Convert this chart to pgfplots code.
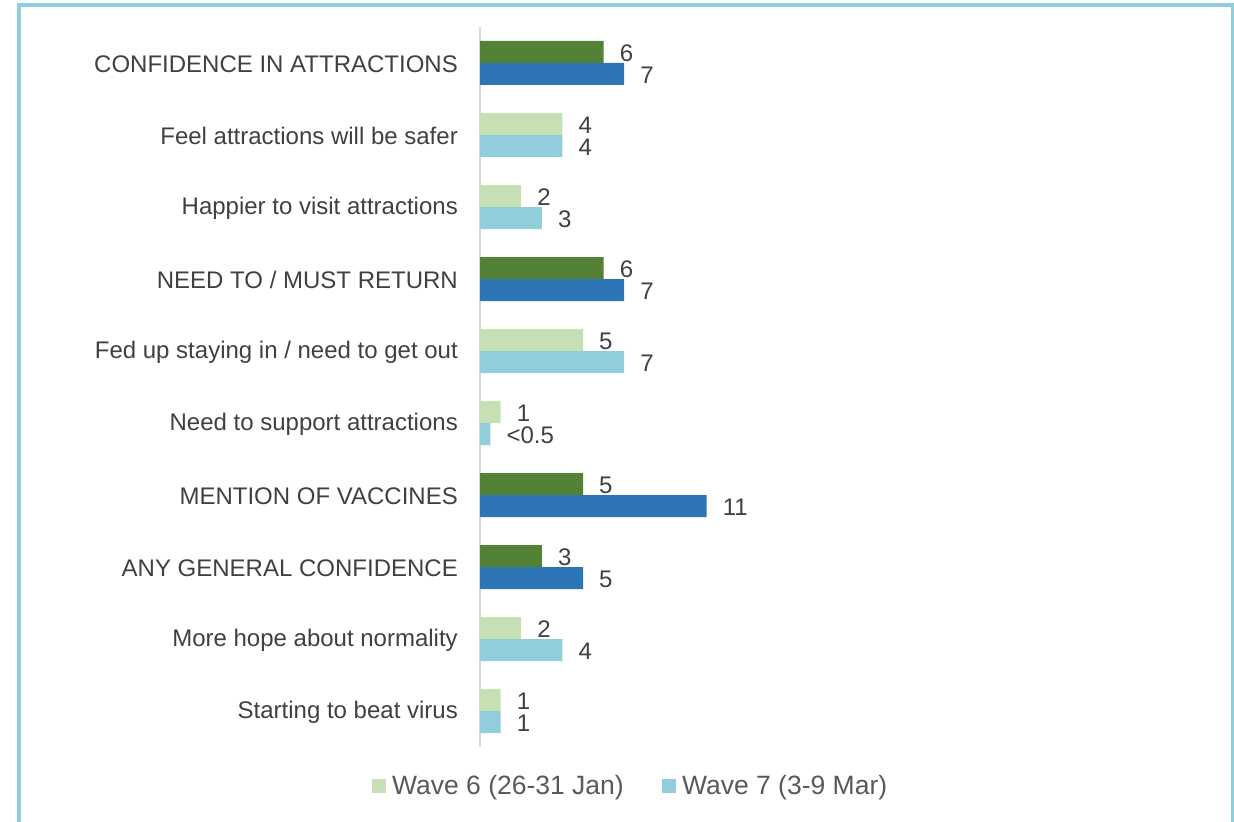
\documentclass[border=0pt]{standalone}
\usepackage{pgfplots}
\pgfplotsset{compat=1.18}
\usepackage{fontspec}
\setmainfont{Liberation Sans}
\definecolor{dkgreen}{HTML}{538135}
\definecolor{ltgreen}{HTML}{C5E0B4}
\definecolor{dkblue}{HTML}{2E75B6}
\definecolor{ltblue}{HTML}{92CDDC}
\definecolor{framebl}{HTML}{92CDDC}
\definecolor{txtgray}{HTML}{404040}
\definecolor{leggray}{HTML}{595959}
\definecolor{axgray}{HTML}{D9D9D9}
\begin{document}
\begin{tikzpicture}
\useasboundingbox (0,0) rectangle (1234bp,822bp);
\draw[color=framebl, line width=3.5bp] (19bp,-10bp) -- (19bp,817bp) -- (1233bp,817bp) -- (1233bp,-10bp);
\begin{axis}[
  at={(480bp,75bp)}, anchor=south west,
  scale only axis,
  width=288.4bp, height=720bp,
  xmin=0, xmax=14,
  ymin=-0.5, ymax=9.5,
  y dir=reverse,
  axis x line=none,
  axis y line*=left,
  y axis line style={color=axgray, line width=2bp, -},
  major tick length=0pt,
  ytick={0,...,9},
  yticklabels={CONFIDENCE IN ATTRACTIONS, Feel attractions will be safer, Happier to visit attractions, NEED TO / MUST RETURN, Fed up staying in / need to get out, Need to support attractions, MENTION OF VACCINES, ANY GENERAL CONFIDENCE, More hope about normality, Starting to beat virus},
  yticklabel style={font=\fontsize{24bp}{28bp}\selectfont, text=txtgray, inner sep=0pt, xshift=-22bp, yshift=-1bp},
  xbar, bar width=22bp,
  point meta=explicit symbolic,
  nodes near coords,
  nodes near coords style={font=\fontsize{24bp}{28bp}\selectfont, text=txtgray, anchor=west, inner sep=0pt, xshift=16bp, yshift=-1.5bp},
  legend style={at={(0.522,-0.054)}, anchor=center, draw=none, fill=none,
    font=\fontsize{26.5bp}{30bp}\selectfont, text=leggray, legend columns=2,
    /tikz/every even column/.append style={column sep=36bp}},
  legend cell align=left,
  legend image code/.code={\fill[#1, draw=none] (0bp,-7bp) rectangle (14bp,7bp); \path (18bp,0bp);},
]
\addplot[fill=dkgreen, draw=none, bar shift=11bp, forget plot] coordinates {(6,0) [6] (6,3) [6] (5,6) [5] (3,7) [3]};
\addplot[fill=ltgreen, draw=none, bar shift=11bp, forget plot] coordinates {(4,1) [4] (2,2) [2] (5,4) [5] (1,5) [1] (2,8) [2] (1,9) [1]};
\addplot[fill=dkblue, draw=none, bar shift=-11bp, forget plot] coordinates {(7,0) [7] (7,3) [7] (11,6) [11] (5,7) [5]};
\addplot[fill=ltblue, draw=none, bar shift=-11bp, forget plot] coordinates {(4,1) [4] (3,2) [3] (7,4) [7] (0.5,5) [<0.5] (4,8) [4] (1,9) [1]};
\addlegendimage{fill=ltgreen}
\addlegendentry{Wave 6 (26-31 Jan)}
\addlegendimage{fill=ltblue}
\addlegendentry{Wave 7 (3-9 Mar)}
\end{axis}
\end{tikzpicture}
\end{document}
